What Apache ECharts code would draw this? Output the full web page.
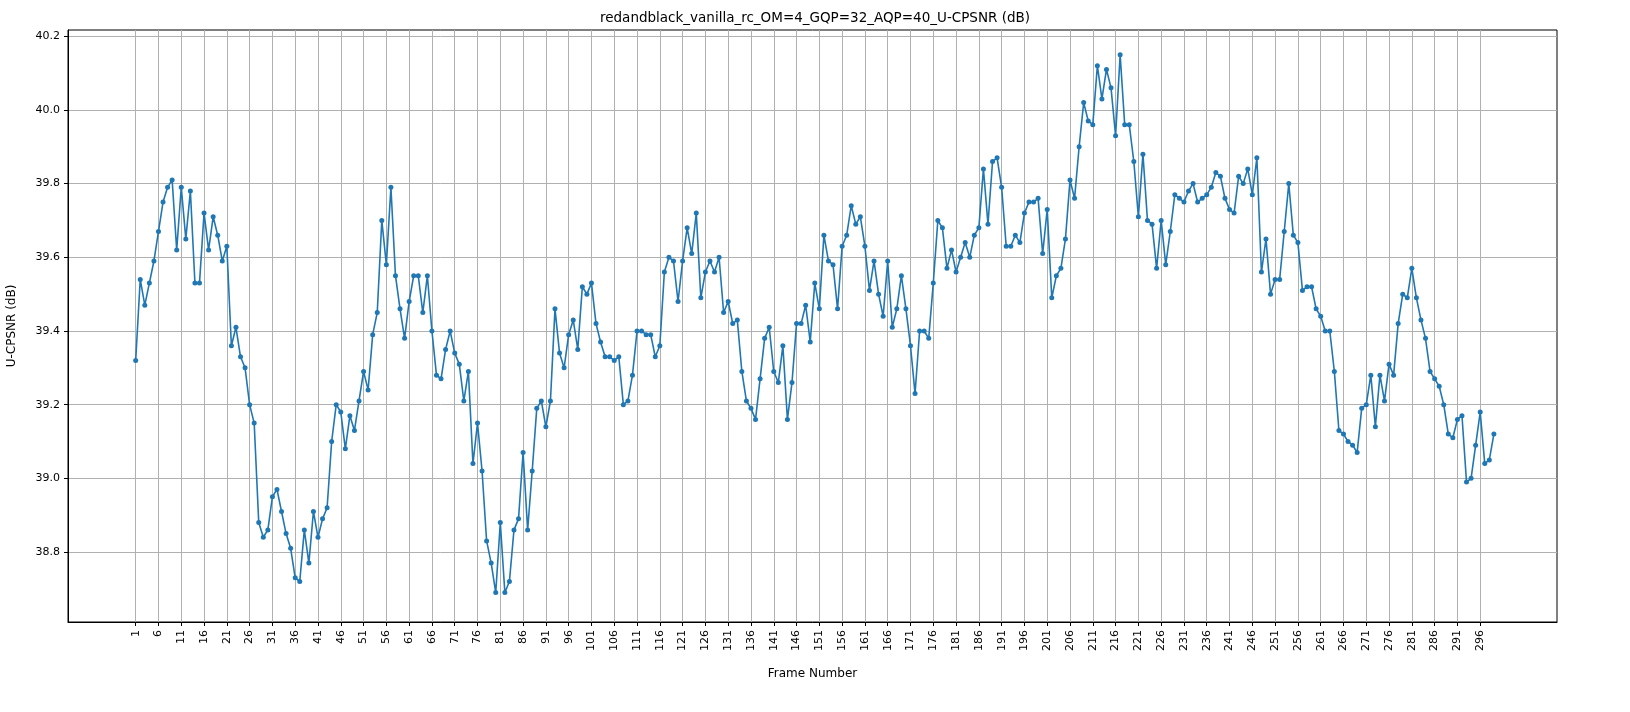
<!DOCTYPE html>
<html>
  <head>
    <meta charset="utf-8" />
    <title>U-CPSNR</title>
    <script src="https://cdnjs.cloudflare.com/ajax/libs/echarts/6.0.0/echarts.min.js"></script>
  </head>
  <body>
    <style>
      html, body { margin: 0; padding: 0; background: #fff; }
      #main { width: 1630px; height: 712px; }
    </style>
    <div id="main"></div>
    <script type="text/javascript">
      var chartTitle = 'redandblack_vanilla_rc_OM=4_GQP=32_AQP=40_U-CPSNR (dB)';
      var xTicks = [];
      for (var t = 1; t <= 296; t += 5) xTicks.push(t);
      var yTicks = [38.8, 39.0, 39.2, 39.4, 39.6, 39.8, 40.0, 40.2];

      var psnr = [
        39.32, 39.54, 39.47, 39.53, 39.59, 39.67, 39.75, 39.79, 39.81, 39.62,
        39.79, 39.65, 39.78, 39.53, 39.53, 39.72, 39.62, 39.71, 39.66, 39.59,
        39.63, 39.36, 39.41, 39.33, 39.30, 39.20, 39.15, 38.88, 38.84, 38.86,
        38.95, 38.97, 38.91, 38.85, 38.81, 38.73, 38.72, 38.86, 38.77, 38.91,
        38.84, 38.89, 38.92, 39.10, 39.20, 39.18, 39.08, 39.17, 39.13, 39.21,
        39.29, 39.24, 39.39, 39.45, 39.70, 39.58, 39.79, 39.55, 39.46, 39.38,
        39.48, 39.55, 39.55, 39.45, 39.55, 39.40, 39.28, 39.27, 39.35, 39.40,
        39.34, 39.31, 39.21, 39.29, 39.04, 39.15, 39.02, 38.83, 38.77, 38.69,
        38.88, 38.69, 38.72, 38.86, 38.89, 39.07, 38.86, 39.02, 39.19, 39.21,
        39.14, 39.21, 39.46, 39.34, 39.30, 39.39, 39.43, 39.35, 39.52, 39.50,
        39.53, 39.42, 39.37, 39.33, 39.33, 39.32, 39.33, 39.20, 39.21, 39.28,
        39.40, 39.40, 39.39, 39.39, 39.33, 39.36, 39.56, 39.60, 39.59, 39.48,
        39.59, 39.68, 39.61, 39.72, 39.49, 39.56, 39.59, 39.56, 39.60, 39.45,
        39.48, 39.42, 39.43, 39.29, 39.21, 39.19, 39.16, 39.27, 39.38, 39.41,
        39.29, 39.26, 39.36, 39.16, 39.26, 39.42, 39.42, 39.47, 39.37, 39.53,
        39.46, 39.66, 39.59, 39.58, 39.46, 39.63, 39.66, 39.74, 39.69, 39.71,
        39.63, 39.51, 39.59, 39.50, 39.44, 39.59, 39.41, 39.46, 39.55, 39.46,
        39.36, 39.23, 39.40, 39.40, 39.38, 39.53, 39.70, 39.68, 39.57, 39.62,
        39.56, 39.60, 39.64, 39.60, 39.66, 39.68, 39.84, 39.69, 39.86, 39.87,
        39.79, 39.63, 39.63, 39.66, 39.64, 39.72, 39.75, 39.75, 39.76, 39.61,
        39.73, 39.49, 39.55, 39.57, 39.65, 39.81, 39.76, 39.90, 40.02, 39.97,
        39.96, 40.12, 40.03, 40.11, 40.06, 39.93, 40.15, 39.96, 39.96, 39.86,
        39.71, 39.88, 39.70, 39.69, 39.57, 39.70, 39.58, 39.67, 39.77, 39.76,
        39.75, 39.78, 39.80, 39.75, 39.76, 39.77, 39.79, 39.83, 39.82, 39.76,
        39.73, 39.72, 39.82, 39.80, 39.84, 39.77, 39.87, 39.56, 39.65, 39.50,
        39.54, 39.54, 39.67, 39.80, 39.66, 39.64, 39.51, 39.52, 39.52, 39.46,
        39.44, 39.40, 39.40, 39.29, 39.13, 39.12, 39.10, 39.09, 39.07, 39.19,
        39.20, 39.28, 39.14, 39.28, 39.21, 39.31, 39.28, 39.42, 39.50, 39.49,
        39.57, 39.49, 39.43, 39.38, 39.29, 39.27, 39.25, 39.20, 39.12, 39.11,
        39.16, 39.17, 38.99, 39.00, 39.09, 39.18, 39.04, 39.05, 39.12
      ];

      var points = psnr.map(function (v, i) { return [i + 1, v]; });

      var myChart = echarts.init(document.getElementById('main'));
      var option = {
        animation: false,
        title: {
          text: chartTitle,
          left: 'center',
          top: 6,
          textStyle: { fontFamily: 'DejaVu Sans', fontSize: 13.5, fontWeight: 'normal', color: '#000' }
        },
        grid: {
          left: 68, right: 73, top: 30, bottom: 90,
          containLabel: false,
          outerBoundsMode: 'none',
          show: true,
          borderColor: '#000',
          borderWidth: 1
        },
        xAxis: {
          type: 'value',
          min: -13.85,
          max: 312.85,
          name: 'Frame Number',
          nameLocation: 'middle',
          nameGap: 46,
          nameTextStyle: { fontFamily: 'DejaVu Sans', fontSize: 12, color: '#000' },
          axisLine: { onZero: false, lineStyle: { color: '#000' } },
          axisTick: { show: true, customValues: xTicks, length: 4, lineStyle: { color: '#000' } },
          axisLabel: { customValues: xTicks, rotate: 90, fontFamily: 'DejaVu Sans', fontSize: 11, color: '#000' },
          splitLine: { show: true, lineStyle: { color: '#b0b0b0', width: 1 } }
        },
        yAxis: {
          type: 'value',
          min: 38.61,
          max: 40.217,
          name: 'U-CPSNR (dB)',
          nameLocation: 'middle',
          nameGap: 50,
          nameTextStyle: { fontFamily: 'DejaVu Sans', fontSize: 12, color: '#000' },
          axisLine: { show: true, onZero: false, lineStyle: { color: '#000' } },
          axisTick: { show: true, customValues: yTicks, length: 4, lineStyle: { color: '#000' } },
          axisLabel: {
            customValues: yTicks,
            fontFamily: 'DejaVu Sans', fontSize: 11, color: '#000',
            formatter: function (v) { return v.toFixed(1); }
          },
          splitLine: { show: true, lineStyle: { color: '#b0b0b0', width: 1 } }
        },
        series: [
          {
            type: 'line',
            data: points,
            symbol: 'circle',
            symbolSize: 5,
            lineStyle: { color: '#1f77b4', width: 1.6 },
            itemStyle: { color: '#1f77b4' }
          }
        ]
      };
      myChart.setOption(option);
    </script>
  </body>
</html>
